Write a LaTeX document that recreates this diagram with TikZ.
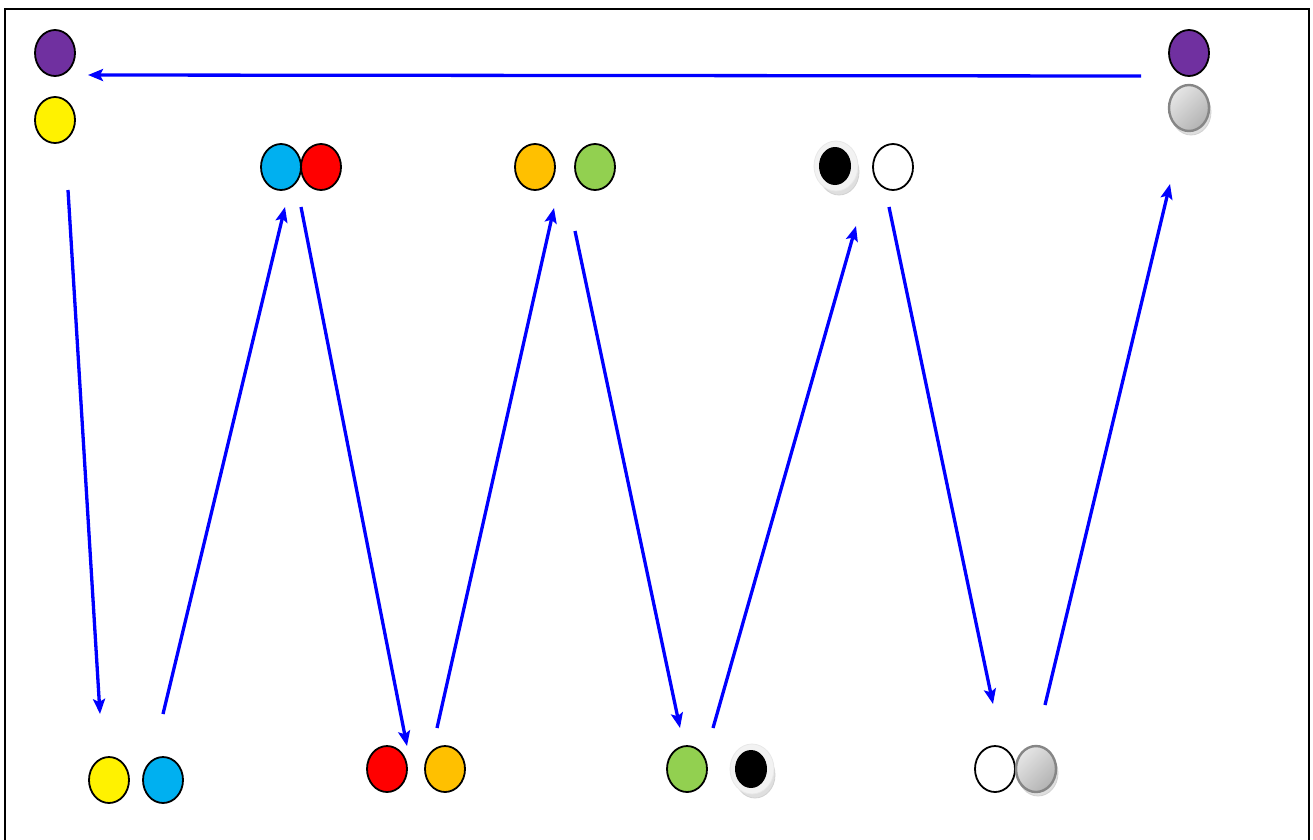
\documentclass[tikz,border=0pt]{standalone}
\usetikzlibrary{shapes.geometric,arrows.meta}
\definecolor{dotpurple}{HTML}{7030A0}
\definecolor{dotcyan}{HTML}{00B0F0}
\definecolor{dotorange}{HTML}{FFC000}
\definecolor{dotgreen}{HTML}{92D050}
\definecolor{arrowblue}{HTML}{0000FF}
\begin{document}
\begin{tikzpicture}[x=1pt,y=-1pt,
  dot/.style={ellipse,draw=black,line width=1.8pt,minimum width=40pt,minimum height=46pt,inner sep=0pt},
  shadowdot/.style={ellipse,fill=gray!25,draw=gray!35,line width=0.8pt,minimum width=40pt,minimum height=46pt,inner sep=0pt},
  ringdot/.style={ellipse,fill=gray!10,draw=gray!18,line width=0.8pt,minimum width=44pt,minimum height=50pt,inner sep=0pt},
  blackdot/.style={ellipse,fill=black,minimum width=32pt,minimum height=38pt,inner sep=0pt},
  graydot/.style={ellipse,draw=gray!95,line width=2.4pt,minimum width=40pt,minimum height=46pt,inner sep=0pt,
     left color=gray!20,right color=gray!60,shading angle=45},
  flow/.style={draw=arrowblue,line width=3.3pt,-{Stealth[length=15pt,width=12pt,inset=3pt]}}]
\useasboundingbox (0,0) rectangle (1313,839);
\fill[white] (0,0) rectangle (1313,839);
\draw[line width=2pt] (5,860) -- (5,9) -- (1309,9) -- (1309,860);

% top-left
\node[dot,fill=dotpurple] (p1) at (55,53) {};
\node[dot,fill=yellow] (y1) at (55,120) {};
% top-right
\node[dot,fill=dotpurple] (p2) at (1189,53) {};
\node[shadowdot] at (1191,112) {};
\node[graydot] (g1) at (1189,108) {};
% top row
\node[dot,fill=dotcyan] (c1) at (281,167) {};
\node[dot,fill=red] (r1) at (321,167) {};
\node[dot,fill=dotorange] (o1) at (535,167) {};
\node[dot,fill=dotgreen] (gr1) at (595,167) {};
\node[shadowdot] at (839,172) {};
\node[ringdot] (k1r) at (836,166) {};
\node[blackdot] (k1) at (835,166) {};
\node[dot,fill=white] (w1) at (893,167) {};
% bottom row
\node[dot,fill=yellow] (y2) at (109,780) {};
\node[dot,fill=dotcyan] (c2) at (163,780) {};
\node[dot,fill=red] (r2) at (387,769) {};
\node[dot,fill=dotorange] (o2) at (445,769) {};
\node[dot,fill=dotgreen] (gr2) at (687,769) {};
\node[shadowdot] at (755,775) {};
\node[ringdot] (k2r) at (752,769) {};
\node[blackdot] (k2) at (751,769) {};
\node[dot,fill=white] (w2) at (995,769) {};
\node[shadowdot] at (1038,773) {};
\node[graydot] (g2) at (1036,769) {};

% arrow end points
\coordinate (a0s) at (1141,76);  \coordinate (a0e) at (88,75);
\coordinate (a1s) at (68,190);   \coordinate (a1e) at (100,714);
\coordinate (a2s) at (163,714);  \coordinate (a2e) at (285,207);
\coordinate (a3s) at (301,207);  \coordinate (a3e) at (407,746);
\coordinate (a4s) at (437,728);  \coordinate (a4e) at (554,208);
\coordinate (a5s) at (575,231);  \coordinate (a5e) at (680,728);
\coordinate (a6s) at (713,728);  \coordinate (a6e) at (856,226);
\coordinate (a7s) at (889,207);  \coordinate (a7e) at (993,704);
\coordinate (a8s) at (1045,705); \coordinate (a8e) at (1170,184);

\foreach \i in {0,...,8} {\path[flow] (a\i s) -- (a\i e);}
\end{tikzpicture}
\end{document}
